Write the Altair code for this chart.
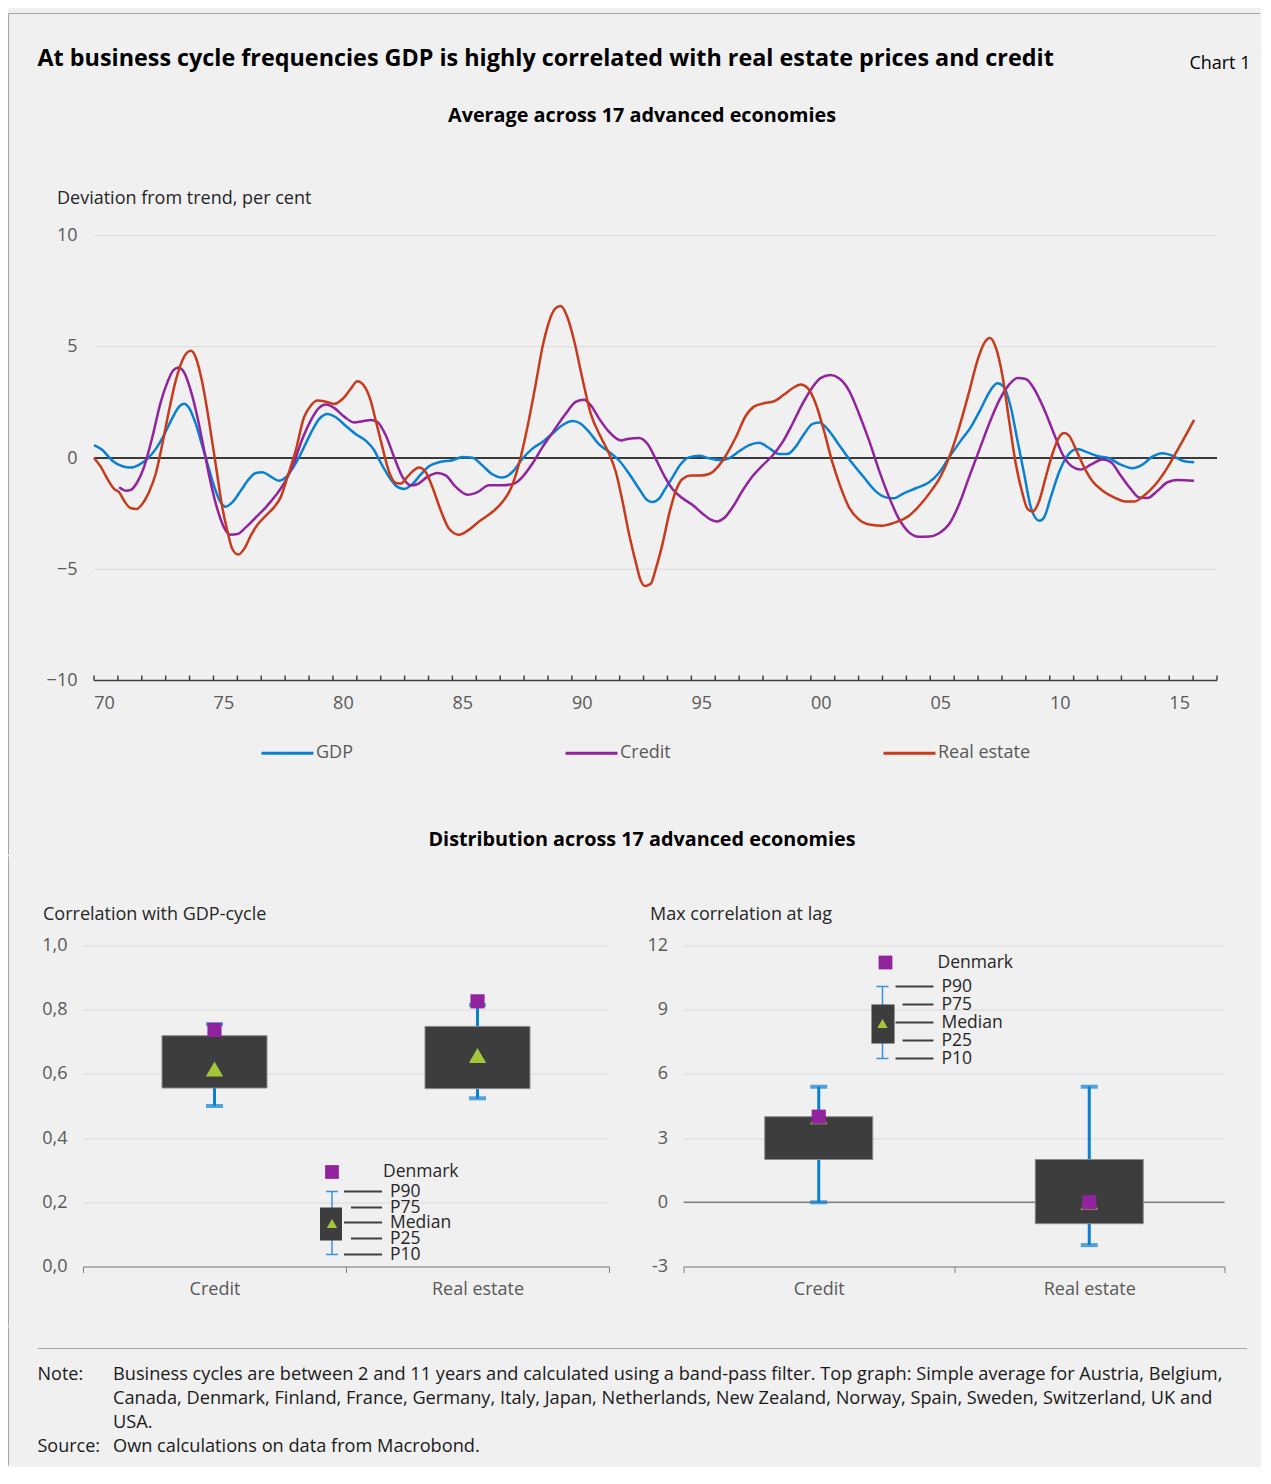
import altair as alt
import pandas as pd

FONT = "Open Sans"
TXT = "#595959"
DARK = "#262626"
GRID = "#d9d9d9"
BG = "#f0f0f0"
FRAME = "#a6a6a6"
BLUE = "#0a80d2"
PURPLE = "#92239e"
GREEN = "#a4c63a"
BOXC = "#3d3d3d"

series_names = ["GDP", "Credit", "Real estate"]
series_colors = ["#0a80d2", "#92239e", "#c83a1c"]

gdp_years = [1970.00, 1970.35, 1970.77, 1971.19, 1971.53, 1971.88, 1972.23, 1972.58, 1972.93, 1973.28,
             1973.56, 1973.77, 1973.98, 1974.26, 1974.53, 1974.81, 1975.09, 1975.30, 1975.51, 1975.79,
             1976.14, 1976.49, 1976.77, 1977.05, 1977.40, 1977.74, 1978.02, 1978.30, 1978.65, 1979.07,
             1979.42, 1979.77, 1980.12, 1980.53, 1980.95, 1981.37, 1981.72, 1981.93, 1982.35, 1982.70,
             1982.98, 1983.32, 1983.67, 1984.02, 1984.44, 1985.00, 1985.42, 1985.84, 1986.25, 1986.67,
             1987.09, 1987.51, 1987.93, 1988.35, 1988.77, 1989.18, 1989.60, 1990.02, 1990.37, 1990.72,
             1991.14, 1991.56, 1991.97, 1992.39, 1992.81, 1993.16, 1993.37, 1993.65, 1993.86, 1994.21,
             1994.56, 1994.90, 1995.32, 1995.74, 1996.16, 1996.58, 1997.00, 1997.42, 1997.83, 1998.25,
             1998.67, 1999.02, 1999.37, 1999.72, 2000.07, 2000.35, 2000.70, 2001.11, 2001.60, 2002.16,
             2002.72, 2003.14, 2003.49, 2003.83, 2004.39, 2004.95, 2005.37, 2005.79, 2006.28, 2006.69,
             2007.11, 2007.53, 2007.81, 2008.09, 2008.37, 2008.65, 2008.93, 2009.21, 2009.56, 2009.76,
             2010.04, 2010.39, 2010.74, 2011.16, 2011.58, 2011.99, 2012.48, 2012.97, 2013.46, 2013.88,
             2014.30, 2014.72, 2015.14, 2015.56, 2016.04]
gdp_values = [0.58, 0.36, -0.12, -0.37, -0.43, -0.31, -0.04, 0.40, 1.03, 1.80,
              2.31, 2.44, 2.25, 1.53, 0.55, -0.49, -1.47, -1.99, -2.19, -1.99,
              -1.47, -0.94, -0.67, -0.64, -0.84, -1.02, -0.87, -0.49, 0.18, 1.11,
              1.75, 1.98, 1.83, 1.45, 1.08, 0.78, 0.36, -0.07, -0.85, -1.30,
              -1.39, -1.18, -0.75, -0.37, -0.19, -0.10, 0.04, 0.01, -0.33, -0.73,
              -0.88, -0.63, -0.03, 0.42, 0.72, 1.09, 1.47, 1.66, 1.54, 1.17,
              0.61, 0.27, -0.10, -0.70, -1.38, -1.90, -1.98, -1.83, -1.47, -0.87,
              -0.27, 0.03, 0.10, -0.01, -0.09, -0.01, 0.30, 0.58, 0.69, 0.45,
              0.18, 0.18, 0.51, 1.08, 1.53, 1.60, 1.30, 0.70, -0.04, -0.79,
              -1.50, -1.77, -1.81, -1.62, -1.36, -1.09, -0.66, 0.03, 0.78, 1.38,
              2.20, 3.06, 3.36, 3.18, 2.28, 0.78, -0.72, -2.22, -2.82, -2.67,
              -1.77, -0.64, 0.10, 0.40, 0.25, 0.09, -0.01, -0.30, -0.46, -0.30,
              0.06, 0.21, 0.10, -0.12, -0.19]

credit_years = [1971.05, 1971.33, 1971.53, 1971.81, 1972.09, 1972.44, 1972.79, 1973.07, 1973.31, 1973.53,
                1973.77, 1974.05, 1974.33, 1974.60, 1974.88, 1975.16, 1975.44, 1975.72, 1976.00, 1976.35,
                1976.77, 1977.19, 1977.60, 1978.02, 1978.37, 1978.72, 1979.07, 1979.42, 1979.70, 1980.05,
                1980.47, 1980.88, 1981.23, 1981.58, 1981.86, 1982.21, 1982.56, 1982.91, 1983.25, 1983.53,
                1983.95, 1984.37, 1984.72, 1985.14, 1985.63, 1986.05, 1986.53, 1987.09, 1987.58, 1987.93,
                1988.35, 1988.77, 1989.25, 1989.74, 1990.16, 1990.51, 1990.79, 1991.14, 1991.56, 1992.04,
                1992.39, 1992.81, 1993.16, 1993.51, 1993.86, 1994.21, 1994.62, 1995.04, 1995.46, 1995.81,
                1996.09, 1996.37, 1996.72, 1997.14, 1997.56, 1997.97, 1998.39, 1998.81, 1999.23, 1999.65,
                2000.07, 2000.42, 2000.83, 2001.18, 2001.60, 2002.02, 2002.44, 2002.86, 2003.28, 2003.69,
                2004.11, 2004.53, 2004.95, 2005.37, 2005.79, 2006.21, 2006.62, 2007.04, 2007.46, 2007.88,
                2008.30, 2008.65, 2009.00, 2009.35, 2009.76, 2010.18, 2010.53, 2010.88, 2011.30, 2011.72,
                2012.21, 2012.56, 2012.97, 2013.39, 2013.74, 2014.09, 2014.51, 2014.93, 2015.35, 2016.04]
credit_values = [-1.32, -1.47, -1.44, -1.09, -0.42, 0.93, 2.50, 3.40, 3.93, 4.07,
                 3.85, 3.03, 1.83, 0.40, -1.09, -2.29, -3.12, -3.45, -3.42, -3.12,
                 -2.67, -2.22, -1.69, -1.02, -0.19, 0.85, 1.68, 2.25, 2.40, 2.25,
                 1.86, 1.60, 1.65, 1.71, 1.62, 1.02, 0.04, -0.85, -1.23, -1.18,
                 -0.85, -0.67, -0.78, -1.30, -1.65, -1.53, -1.23, -1.23, -1.15, -0.85,
                 -0.25, 0.49, 1.24, 1.99, 2.52, 2.62, 2.37, 1.77, 1.17, 0.79,
                 0.87, 0.90, 0.64, -0.04, -0.79, -1.39, -1.80, -2.10, -2.49, -2.77,
                 -2.85, -2.70, -2.22, -1.47, -0.82, -0.34, 0.10, 0.70, 1.53, 2.43,
                 3.18, 3.60, 3.73, 3.58, 3.03, 1.98, 0.78, -0.57, -1.77, -2.74,
                 -3.34, -3.54, -3.53, -3.38, -2.97, -2.07, -0.87, 0.33, 1.53, 2.58,
                 3.30, 3.60, 3.55, 3.10, 2.20, 1.08, 0.18, -0.34, -0.52, -0.30,
                 -0.07, -0.19, -0.79, -1.39, -1.77, -1.80, -1.47, -1.09, -0.99, -1.02]

realestate_years = [1970.00, 1970.28, 1970.56, 1970.84, 1971.05, 1971.26, 1971.53, 1971.79, 1972.02, 1972.30,
                    1972.58, 1972.86, 1973.14, 1973.42, 1973.77, 1974.05, 1974.26, 1974.53, 1974.81, 1975.09,
                    1975.37, 1975.58, 1975.79, 1976.04, 1976.28, 1976.56, 1976.84, 1977.19, 1977.53, 1977.81,
                    1978.09, 1978.44, 1978.79, 1979.07, 1979.35, 1979.63, 1980.05, 1980.40, 1980.74, 1981.02,
                    1981.30, 1981.58, 1981.79, 1982.07, 1982.35, 1982.63, 1982.84, 1983.11, 1983.39, 1983.60,
                    1983.88, 1984.16, 1984.51, 1984.86, 1985.28, 1985.70, 1986.18, 1986.67, 1987.09, 1987.44,
                    1987.79, 1988.14, 1988.49, 1988.77, 1989.04, 1989.30, 1989.53, 1989.81, 1990.09, 1990.44,
                    1990.79, 1991.21, 1991.56, 1991.84, 1992.11, 1992.39, 1992.67, 1992.88, 1993.06, 1993.30,
                    1993.51, 1993.79, 1994.07, 1994.35, 1994.63, 1994.97, 1995.39, 1995.74, 1996.09, 1996.44,
                    1996.86, 1997.28, 1997.62, 1998.04, 1998.46, 1998.88, 1999.30, 1999.58, 1999.86, 2000.21,
                    2000.55, 2000.90, 2001.25, 2001.60, 2002.02, 2002.51, 2003.00, 2003.55, 2004.11, 2004.67,
                    2005.09, 2005.37, 2005.79, 2006.21, 2006.62, 2006.97, 2007.25, 2007.50, 2007.74, 2008.02,
                    2008.30, 2008.58, 2008.83, 2009.07, 2009.28, 2009.56, 2009.83, 2010.11, 2010.39, 2010.60,
                    2010.81, 2011.09, 2011.44, 2011.79, 2012.21, 2012.69, 2013.18, 2013.53, 2013.95, 2014.44,
                    2014.93, 2015.41, 2015.76, 2016.04]
realestate_values = [0.00, -0.39, -0.94, -1.39, -1.54, -1.92, -2.25, -2.29, -2.07, -1.54,
                     -0.72, 0.63, 2.13, 3.48, 4.55, 4.82, 4.52, 3.40, 1.68, -0.27,
                     -2.22, -3.27, -4.09, -4.34, -4.09, -3.49, -3.00, -2.59, -2.22, -1.77,
                     -0.87, 0.33, 1.83, 2.35, 2.58, 2.55, 2.43, 2.65, 3.10, 3.45,
                     3.25, 2.58, 1.69, 0.49, -0.63, -1.12, -1.15, -0.85, -0.55, -0.43,
                     -0.63, -1.30, -2.35, -3.18, -3.45, -3.22, -2.80, -2.43, -1.98, -1.38,
                     -0.25, 1.39, 3.34, 4.99, 6.11, 6.71, 6.83, 6.34, 5.29, 3.57,
                     1.99, 0.94, 0.19, -0.63, -1.90, -3.40, -4.67, -5.50, -5.75, -5.65,
                     -4.99, -3.87, -2.52, -1.47, -0.94, -0.79, -0.79, -0.72, -0.42, 0.10,
                     0.93, 1.90, 2.31, 2.46, 2.55, 2.85, 3.18, 3.30, 3.15, 2.43,
                     1.23, -0.19, -1.32, -2.22, -2.77, -3.00, -3.04, -2.89, -2.59, -1.99,
                     -1.40, -0.95, 0.03, 1.38, 2.95, 4.37, 5.15, 5.39, 4.97, 3.70,
                     1.68, -0.27, -1.47, -2.29, -2.41, -1.92, -0.87, 0.18, 0.93, 1.12,
                     1.00, 0.40, -0.42, -1.05, -1.47, -1.77, -1.96, -1.96, -1.69, -1.17,
                     -0.42, 0.48, 1.15, 1.71]

axis_years = list(range(1970, 2018))
x_tick_labels = ["70", "75", "80", "85", "90", "95", "00", "05", "10", "15"]
label_positions = [1970.5 + 5 * i for i in range(len(x_tick_labels))]
y_top_ticks = [-10, -5, 0, 5, 10]

box_categories = ["Credit", "Real estate"]
corr_p10 = [0.500, 0.524]
corr_p25 = [0.556, 0.554]
corr_median = [0.615, 0.657]
corr_p75 = [0.719, 0.748]
corr_p90 = [0.755, 0.815]
corr_denmark = [0.737, 0.826]
corr_ticks = [0.0, 0.2, 0.4, 0.6, 0.8, 1.0]
corr_tick_labels = ["0,0", "0,2", "0,4", "0,6", "0,8", "1,0"]

lag_p10 = [0.0, -2.0]
lag_p25 = [2.0, -1.0]
lag_median = [4.0, 0.0]
lag_p75 = [4.0, 2.0]
lag_p90 = [5.4, 5.4]
lag_denmark = [4.0, 0.0]
lag_ticks = [-3, 0, 3, 6, 9, 12]

key_labels = ["P90", "P75", "Median", "P25", "P10"]
note_lines = [
    "Business cycles are between 2 and 11 years and calculated using a band-pass filter. Top graph: Simple average for Austria, Belgium,",
    "Canada, Denmark, Finland, France, Germany, Italy, Japan, Netherlands, New Zealand, Norway, Spain, Sweden, Switzerland, UK and",
    "USA.",
]
source_line = "Own calculations on data from Macrobond."

ONE = pd.DataFrame({"k": [0]})
FX = -74.5   # x of the frame's left edge, relative to the plot origins


def txt(s, x, y, size=18, weight="normal", color=DARK, align="left", baseline="middle"):
    return alt.Chart(ONE).mark_text(
        text=s, fontSize=size, fontWeight=weight, color=color, align=align,
        baseline=baseline, font=FONT
    ).encode(x=alt.value(x), y=alt.value(y))


def hrule(x1, x2, y, color, width=1.0):
    return alt.Chart(ONE).mark_rule(color=color, strokeWidth=width).encode(
        x=alt.value(x1), x2=alt.value(x2), y=alt.value(y))


def vrule(x, y1, y2, color, width=1.0):
    return alt.Chart(ONE).mark_rule(color=color, strokeWidth=width).encode(
        x=alt.value(x), y=alt.value(y1), y2=alt.value(y2))


# ---------------- top chart (origin = left edge of the lower-left panel) ----------------
rows = []
for name, ys, vs in [("GDP", gdp_years, gdp_values),
                     ("Credit", credit_years, credit_values),
                     ("Real estate", realestate_years, realestate_values)]:
    for y, v in zip(ys, vs):
        rows.append({"year": y, "value": v, "series": name})
lines_df = pd.DataFrame(rows)

TOP_W, TOP_H = 1134, 445
PX_PER_YEAR = 1123 / 47.0
x_start = axis_years[0] - 11 / PX_PER_YEAR      # plot starts 11px left of the first year
xscale = alt.Scale(domain=[x_start, axis_years[-1]], nice=False, zero=False)
yscale = alt.Scale(domain=[-10, 10], nice=False, zero=False)
label_expr = "[" + ",".join("'%s'" % s for s in x_tick_labels) + "][round((datum.value - 1970.5) / 5)]"
x_axis = alt.Axis(values=label_positions, labelExpr=label_expr, ticks=False, tickSize=0, grid=False,
                  domain=False, labelColor=TXT, labelFontSize=18, labelPadding=14, title=None,
                  labelFlush=False, labelOffset=-2)
y_axis = alt.Axis(values=y_top_ticks, grid=False, domain=False, ticks=False,
                  tickSize=0, labelColor=TXT, labelFontSize=18, labelPadding=6,
                  title="Deviation from trend, per cent", titleAngle=0, titleAlign="left",
                  titleBaseline="middle", titleX=-26.5, titleY=-37, titleFontWeight="normal",
                  titleFontSize=18, titleColor=DARK)

grid_rules = alt.Chart(pd.DataFrame({"g": y_top_ticks})).mark_rule(color=GRID, strokeWidth=1).encode(
    y=alt.Y("g:Q", scale=yscale, axis=y_axis),
    x=alt.datum(axis_years[0], scale=xscale), x2=alt.datum(axis_years[-1]))

domain_rule = alt.Chart(ONE).mark_rule(color="#404040", strokeWidth=1.5).encode(
    y=alt.datum(y_top_ticks[0], scale=yscale),
    x=alt.datum(axis_years[0], scale=xscale), x2=alt.datum(axis_years[-1]))

tick_rules = alt.Chart(pd.DataFrame({"year": axis_years})).mark_rule(color="#404040", strokeWidth=1.5).encode(
    x=alt.X("year:Q", scale=xscale, axis=x_axis), y=alt.value(TOP_H - 5), y2=alt.value(TOP_H))

zero_rule = alt.Chart(ONE).mark_rule(color="black", strokeWidth=1.5).encode(
    y=alt.datum(0, scale=yscale),
    x=alt.datum(axis_years[0], scale=xscale), x2=alt.datum(axis_years[-1]))

lines = alt.Chart(lines_df).mark_line(strokeWidth=2.5, interpolate="monotone").encode(
    x=alt.X("year:Q", scale=xscale, axis=x_axis),
    y=alt.Y("value:Q", scale=yscale, axis=y_axis),
    color=alt.Color("series:N", sort=series_names,
                    scale=alt.Scale(domain=series_names, range=series_colors),
                    legend=alt.Legend(orient="none", legendX=177, legendY=490, direction="horizontal",
                                      title=None, symbolType="stroke", symbolSize=2700,
                                      symbolStrokeWidth=3, labelFontSize=18, labelColor=TXT,
                                      columnPadding=206, labelOffset=1)),
)

top = alt.layer(
    hrule(FX, 1177, -222, FRAME),
    vrule(FX, -222, 619.5, FRAME),
    grid_rules,
    domain_rule,
    tick_rules,
    zero_rule,
    lines,
    txt("At business cycle frequencies GDP is highly correlated with real estate prices and credit",
        -45.5, -177, size=23.35, weight="bold", color="#000000"),
    txt("Chart 1", 1167.5, -172, size=18, color="#000000", align="right"),
    txt("Average across 17 advanced economies", 559, -120, size=19.8, weight="bold", color="#000000",
        align="center"),
    txt("Distribution across 17 advanced economies", 559, 604, size=19.8, weight="bold",
        color="#000000", align="center"),
).properties(width=TOP_W, height=TOP_H)


# ---------------- box panels ----------------
def box_panel(p10, p25, med, p75, p90, den, domain, ticks, tick_labels, title, title_x,
              box_w, zero_line, inset):
    df = pd.DataFrame({"category": box_categories, "p10": p10, "p25": p25, "median": med,
                       "p75": p75, "p90": p90, "denmark": den})
    ys = alt.Scale(domain=domain, nice=False, zero=False)
    lab_expr = "[" + ",".join("'%s'" % s for s in tick_labels) + "][round((datum.value - (%s)) / (%s))]" % (
        ticks[0], ticks[1] - ticks[0])
    yax = alt.Axis(values=ticks, labelExpr=lab_expr, grid=True, gridColor=GRID, domain=False, ticks=False,
                   tickSize=0, labelColor=TXT, labelFontSize=18, labelPadding=16, title=title,
                   titleAngle=0, titleAlign="left", titleBaseline="middle", titleX=title_x, titleY=-31,
                   titleFontWeight="normal", titleFontSize=18, titleColor=DARK)
    xax = alt.Axis(title=None, labelAngle=0, tickBand="extent", ticks=True, tickSize=6,
                   tickColor="#808080", domain=True, domainColor="#808080", domainWidth=1.2,
                   labelColor=TXT, labelFontSize=18, labelPadding=8, grid=False)
    X = alt.X("category:N", sort=box_categories, scale=alt.Scale(paddingInner=0, paddingOuter=0), axis=xax)

    def Y(f):
        return alt.Y(f + ":Q", scale=ys, axis=yax)

    base = alt.Chart(df).encode(x=X)
    layers = []
    if zero_line:
        layers.append(alt.Chart(ONE).mark_rule(color="#7f7f7f", strokeWidth=1.5).encode(
            y=alt.datum(0, scale=ys)))
    layers += [
        base.mark_rule(color=BLUE, strokeWidth=3).encode(y=Y("p10"), y2=alt.Y2("p90")),
        base.mark_bar(size=box_w, color=BOXC, stroke="#8c8c8c", strokeWidth=1).encode(
            y=Y("p25"), y2=alt.Y2("p75")),
        base.mark_tick(color=BLUE, size=17, thickness=4).encode(y=Y("p10")),
        base.mark_tick(color=BLUE, size=17, thickness=4).encode(y=Y("p90")),
        base.mark_point(shape="triangle-up", filled=True, size=300, color=GREEN, opacity=1).encode(
            y=Y("median")),
        base.mark_point(shape="square", filled=True, size=200, color=PURPLE, opacity=1).encode(
            y=Y("denmark")),
    ]
    # inset key (legend)
    (sq_x, sq_y, den_x, wx, wy1, wy2, bx1, bx2, by1, by2, tri_y, long_x, short_x, lx2, lab_x, row_ys) = inset
    layers += [
        alt.Chart(ONE).mark_point(shape="square", filled=True, size=190, color=PURPLE, opacity=1).encode(
            x=alt.value(sq_x), y=alt.value(sq_y)),
        txt("Denmark", den_x, sq_y, size=17.5, color=DARK),
        vrule(wx, wy1, wy2, "#3a92dc", 1.5),
        hrule(wx - 6, wx + 6, wy1, "#3a92dc", 1.5),
        hrule(wx - 6, wx + 6, wy2, "#3a92dc", 1.5),
        alt.Chart(ONE).mark_rect(color=BOXC).encode(
            x=alt.value(bx1), x2=alt.value(bx2), y=alt.value(by1), y2=alt.value(by2)),
        alt.Chart(ONE).mark_point(shape="triangle-up", filled=True, size=110, color=GREEN, opacity=1).encode(
            x=alt.value(wx), y=alt.value(tri_y)),
    ]
    for i, (lab, ry) in enumerate(zip(key_labels, row_ys)):
        x1 = long_x if i % 2 == 0 else short_x
        layers.append(hrule(x1, lx2, ry, "#404040", 2))
        layers.append(txt(lab, lab_x, ry, size=17.5, color=DARK))
    return layers


left_layers = box_panel(corr_p10, corr_p25, corr_median, corr_p75, corr_p90, corr_denmark,
                        [0, 1], corr_ticks, corr_tick_labels, "Correlation with GDP-cycle", -40.5, 105, False,
                        (249, 226.5, 300, 249, 246, 309, 237, 259, 262, 295, 278, 261, 268, 299, 307,
                         [246, 262, 277, 293, 309]))
left_layers += [
    vrule(FX, -89, 380.5, FRAME),             # frame piece (also fixes the row bounds)
    vrule(538.5, 100, 110, BG),               # layout anchor in the gap
]
left = alt.layer(*left_layers).properties(width=526, height=321)

right_layers = box_panel(lag_p10, lag_p25, lag_median, lag_p75, lag_p90, lag_denmark,
                         [-3, 12], lag_ticks, [str(t) for t in lag_ticks], "Max correlation at lag", -34, 108,
                         True,
                         (202, 17, 254, 199, 41, 113, 188, 211, 59, 98, 78, 212, 219, 250, 258,
                          [41, 59, 77, 95, 113]))
right_layers += [vrule(-59.5, 100, 110, BG)]  # layout anchor in the gap
right = alt.layer(*right_layers).properties(width=541, height=321)

bottom_row = alt.hconcat(left, right, spacing=1.5)

# ---------------- notes ----------------
note_layers = [vrule(FX, -0.5, 138, FRAME), hrule(-45.5, 1164, 21, FRAME)]
note_layers.append(txt("Note:", -45.5, 47.5, color="#1a1a1a"))
for i, line in enumerate(note_lines):
    note_layers.append(txt(line, 30, 47.5 + 24 * i, size=18.2, color="#1a1a1a"))
note_layers.append(txt("Source:", -45.5, 119.5, color="#1a1a1a"))
note_layers.append(txt(source_line, 30, 119.5, size=18.2, color="#1a1a1a"))
notes = alt.layer(*note_layers).properties(width=1141, height=130)

chart = alt.vconcat(top, bottom_row, notes, spacing=0).properties(
    padding={"left": 0, "top": 4.5, "right": 0, "bottom": 0},
    background=BG,
).configure(font=FONT).configure_view(strokeWidth=0)

chart.save("out.html", embed_options={"renderer": "svg", "actions": False})
